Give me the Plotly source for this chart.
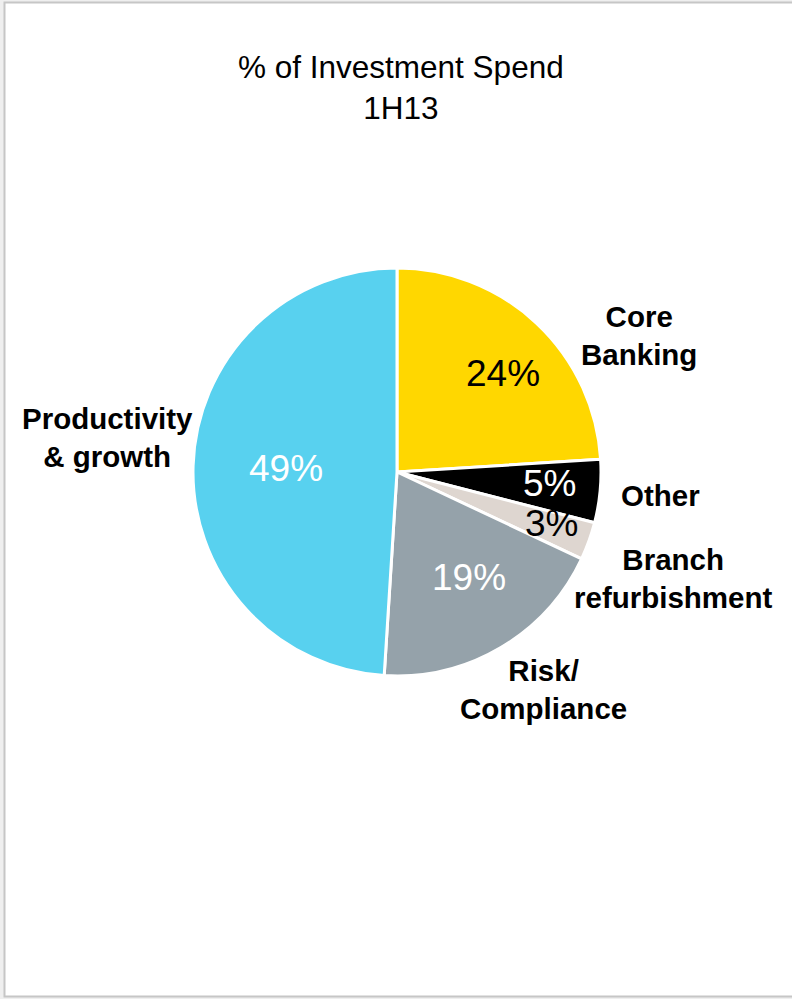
import plotly.graph_objects as go

# Share of investment spend, 1H13 (clockwise from 12 o'clock)
categories = ["Core Banking", "Other", "Branch refurbishment", "Risk/Compliance", "Productivity & growth"]
shares = [24, 5, 3, 19, 49]
slice_colors = ["#FFD700", "#000000", "#DED6D0", "#95A2AA", "#58D1EF"]
pct_text_colors = ["#000000", "#FFFFFF", "#000000", "#FFFFFF", "#FFFFFF"]
category_labels = ["Core<br>Banking", "Other", "Branch<br>refurbishment", "Risk/<br>Compliance", "Productivity<br>& growth"]

W, H = 792, 999
FONT = "Liberation Sans, Arial, sans-serif"

# pie geometry in pixels
cx, cy, r = 397, 472, 204

# label anchor points in pixels
pct_pos = [(503, 373), (549, 483), (551, 523), (469, 577), (286, 469)]
cat_pos = [(639, 335), (660, 495), (673, 578), (543, 689), (108, 437)]


def px(x, y):
    return x / W, 1 - y / H


fig = go.Figure(
    go.Pie(
        labels=categories,
        values=shares,
        sort=False,
        direction="clockwise",
        rotation=0,
        marker=dict(colors=slice_colors, line=dict(color="#FFFFFF", width=3)),
        textinfo="none",
        hoverinfo="label+percent",
        showlegend=False,
        domain=dict(x=[(cx - r) / W, (cx + r) / W], y=[1 - (cy + r) / H, 1 - (cy - r) / H]),
    )
)

annotations = []
total = sum(shares)
for v, (x, y), col in zip(shares, pct_pos, pct_text_colors):
    ax, ay = px(x, y)
    annotations.append(dict(
        x=ax, y=ay, xref="paper", yref="paper", showarrow=False,
        text=f"{round(100 * v / total)}%", xanchor="center", yanchor="middle",
        font=dict(family=FONT, size=37, color=col),
    ))
for lab, (x, y) in zip(category_labels, cat_pos):
    ax, ay = px(x, y)
    annotations.append(dict(
        x=ax, y=ay, xref="paper", yref="paper", showarrow=False,
        text=f"<b>{lab}</b>", xanchor="center", yanchor="middle", align="center",
        font=dict(family=FONT, size=29.5, color="#000000"),
    ))
tx, ty = px(401, 87)
annotations.append(dict(
    x=tx, y=ty, xref="paper", yref="paper", showarrow=False,
    text="% of Investment Spend<br>1H13", xanchor="center", yanchor="middle", align="center",
    font=dict(family=FONT, size=31.5, color="#000000"),
))

fig.update_layout(
    width=W, height=H,
    margin=dict(l=0, r=0, t=0, b=0),
    paper_bgcolor="#EFEFEF",
    plot_bgcolor="#FFFFFF",
    annotations=annotations,
    shapes=[dict(
        type="rect", xref="paper", yref="paper", layer="below",
        x0=4.5 / W, x1=1.05, y0=1 - 996.5 / H, y1=1 - 2.5 / H,
        line=dict(color="#C6C6C6", width=2), fillcolor="#FFFFFF",
    )],
)

fig.write_html("out.html")
